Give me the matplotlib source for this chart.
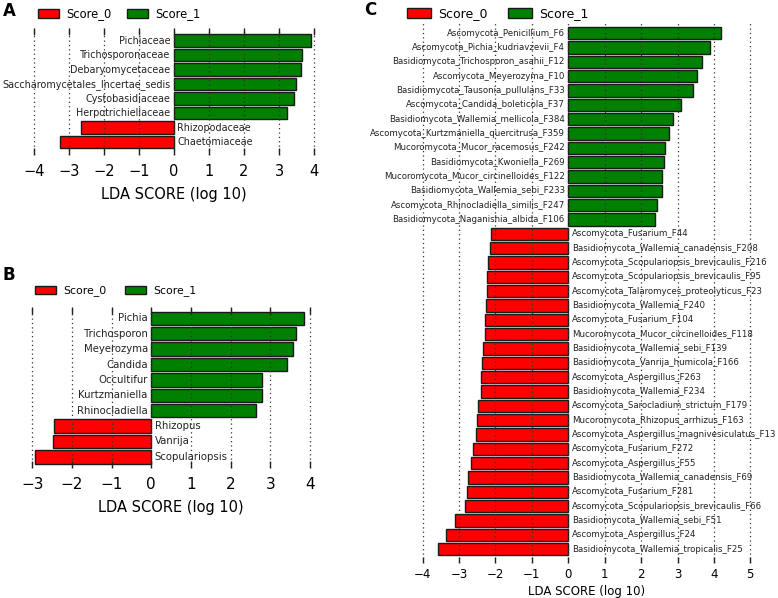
import matplotlib
matplotlib.use("Agg")
import matplotlib.pyplot as plt
import numpy as np

plt.rcParams['font.family'] = ['DejaVu Sans']

# ---------------- data ----------------
a_labels = ["Pichiaceae", "Trichosporonaceae", "Debaryomycetaceae",
            "Saccharomycetales_Incertae_sedis", "Cystobasidiaceae",
            "Herpotrichiellaceae", "Rhizopodaceae", "Chaetomiaceae"]
a_scores = [3.90, 3.65, 3.62, 3.48, 3.43, 3.22, -2.67, -3.27]

b_labels = ["Pichia", "Trichosporon", "Meyerozyma", "Candida", "Occultifur",
            "Kurtzmaniella", "Rhinocladiella", "Rhizopus", "Vanrija", "Scopulariopsis"]
b_scores = [3.85, 3.66, 3.58, 3.42, 2.80, 2.80, 2.63, -2.45, -2.47, -2.94]

c_labels = ["Ascomycota_Penicillium_F6", "Ascomycota_Pichia_kudriavzevii_F4",
            "Basidiomycota_Trichosporon_asahii_F12", "Ascomycota_Meyerozyma_F10",
            "Basidiomycota_Tausonia_pullulans_F33", "Ascomycota_Candida_boleticola_F37",
            "Basidiomycota_Wallemia_mellicola_F384", "Ascomycota_Kurtzmaniella_quercitrusa_F359",
            "Mucoromycota_Mucor_racemosus_F242", "Basidiomycota_Kwoniella_F269",
            "Mucoromycota_Mucor_circinelloides_F122", "Basidiomycota_Wallemia_sebi_F233",
            "Ascomycota_Rhinocladiella_similis_F247", "Basidiomycota_Naganishia_albida_F106",
            "Ascomycota_Fusarium_F44", "Basidiomycota_Wallemia_canadensis_F208",
            "Ascomycota_Scopulariopsis_brevicaulis_F216", "Ascomycota_Scopulariopsis_brevicaulis_F95",
            "Ascomycota_Talaromyces_proteolyticus_F23", "Basidiomycota_Wallemia_F240",
            "Ascomycota_Fusarium_F104", "Mucoromycota_Mucor_circinelloides_F118",
            "Basidiomycota_Wallemia_sebi_F139", "Basidiomycota_Vanrija_humicola_F166",
            "Ascomycota_Aspergillus_F263", "Basidiomycota_Wallemia_F234",
            "Ascomycota_Sarocladium_strictum_F179", "Mucoromycota_Rhizopus_arrhizus_F163",
            "Ascomycota_Aspergillus_magnivesiculatus_F13", "Ascomycota_Fusarium_F272",
            "Ascomycota_Aspergillus_F55", "Basidiomycota_Wallemia_canadensis_F69",
            "Ascomycota_Fusarium_F281", "Ascomycota_Scopulariopsis_brevicaulis_F66",
            "Basidiomycota_Wallemia_sebi_F51", "Ascomycota_Aspergillus_F24",
            "Basidiomycota_Wallemia_tropicalis_F25"]
c_scores = [4.19, 3.89, 3.66, 3.54, 3.43, 3.10, 2.88, 2.76, 2.66, 2.62, 2.57, 2.57,
            2.43, 2.37,
            -2.12, -2.15, -2.21, -2.24, -2.24, -2.27, -2.29, -2.29, -2.33, -2.37,
            -2.41, -2.41, -2.47, -2.52, -2.54, -2.61, -2.68, -2.76, -2.77, -2.83,
            -3.11, -3.37, -3.57]

a_ticks = [-4, -3, -2, -1, 0, 1, 2, 3, 4]
b_ticks = [-3, -2, -1, 0, 1, 2, 3, 4]
c_ticks = [-4, -3, -2, -1, 0, 1, 2, 3, 4, 5]
legend_names = ["Score_0", "Score_1"]

RED = "#ff0000"
GREEN = "#008000"

W, H = 778, 598
fig = plt.figure(figsize=(W / 100, H / 100), dpi=100)


def px_axes(left, top, width, height):
    return fig.add_axes([left / W, 1 - (top + height) / H, width / W, height / H])


def panel(labels, scores, ticks, zero, unit, xlim, top, bottom, c_top, pitch,
          label_fs, tick_fs, xlab_fs, xlab_pad, tick_pad, top_ticks, tick_len):
    n = len(labels)
    left = zero + xlim[0] * unit
    width = (xlim[1] - xlim[0]) * unit
    ax = px_axes(left, top, width, bottom - top)
    ypos = np.arange(n)[::-1]
    c_bot = c_top + (n - 1) * pitch
    ylim = (0 - (bottom - c_bot) / pitch, (n - 1) + (c_top - top) / pitch)
    colors = [GREEN if s > 0 else RED for s in scores]
    ax.barh(ypos, scores, height=0.86, color=colors, edgecolor="#1a1a1a",
            linewidth=1.0, zorder=1)
    for y, lab, s in zip(ypos, labels, scores):
        if s > 0:
            ax.annotate(lab, (0, y), xytext=(-2.5, 0), textcoords="offset points",
                        ha="right", va="center", fontsize=label_fs, color="#222222")
        else:
            ax.annotate(lab, (0, y), xytext=(2.5, 0), textcoords="offset points",
                        ha="left", va="center", fontsize=label_fs, color="#222222")
    ax.set_xlim(*xlim)
    ax.set_ylim(*ylim)
    ax.set_xticks(ticks)
    ax.set_yticks([])
    for sp in ax.spines.values():
        sp.set_visible(False)
    ax.tick_params(axis="x", top=top_ticks, bottom=True, direction="in",
                   length=tick_len, width=1.0, color="#222222",
                   labelsize=tick_fs, pad=tick_pad)
    ax.grid(axis="x", linestyle=(0, (1, 2.5)), color="#333333", linewidth=0.9)
    ax.set_axisbelow(False)
    ax.set_xlabel("LDA SCORE (log 10)", fontsize=xlab_fs, labelpad=xlab_pad)
    ax.patch.set_alpha(0)
    return ax


def legend(x, y, fs, hl, hh, htp, cs):
    from matplotlib.patches import Patch
    handles = [Patch(facecolor=RED, edgecolor="#1a1a1a", linewidth=1.0),
               Patch(facecolor=GREEN, edgecolor="#1a1a1a", linewidth=1.0)]
    fig.legend(handles, legend_names, loc="center left",
               bbox_to_anchor=(x / W, 1 - y / H), ncol=2, frameon=False,
               fontsize=fs, handlelength=hl, handleheight=hh,
               handletextpad=htp, columnspacing=cs, borderpad=0,
               borderaxespad=0)


axA = panel(a_labels, a_scores, a_ticks, zero=174, unit=35, xlim=(-4.2, 4.2),
            top=28, bottom=155, c_top=40.7, pitch=14.5,
            label_fs=6.9, tick_fs=10.5, xlab_fs=10.5, xlab_pad=6, tick_pad=6.5,
            top_ticks=True, tick_len=5)
axB = panel(b_labels, b_scores, b_ticks, zero=151.3, unit=39.67, xlim=(-3.15, 4.15),
            top=307, bottom=468, c_top=318.3, pitch=15.4,
            label_fs=7.3, tick_fs=11, xlab_fs=10.5, xlab_pad=6, tick_pad=6.5,
            top_ticks=True, tick_len=5)
axC = panel(c_labels, c_scores, c_ticks, zero=568.3, unit=36.4, xlim=(-4.15, 5.15),
            top=23, bottom=563, c_top=33.3, pitch=14.33,
            label_fs=6.2, tick_fs=8.5, xlab_fs=8.5, xlab_pad=3, tick_pad=3.5,
            top_ticks=False, tick_len=4)

legend(38, 14, 8.3, 1.82, 0.7, 0.6, 1.4)
legend(35, 291, 7.8, 1.94, 0.7, 0.65, 1.75)
legend(407, 14, 9, 1.9, 0.8, 0.6, 1.6)

fig.text(3 / W, 1 - 11 / H, "A", fontsize=12, fontweight="bold", va="center", ha="left")
fig.text(3 / W, 1 - 275 / H, "B", fontsize=12, fontweight="bold", va="center", ha="left")
fig.text(364 / W, 1 - 10 / H, "C", fontsize=12, fontweight="bold", va="center", ha="left")

fig.savefig("out.png", dpi=100)
